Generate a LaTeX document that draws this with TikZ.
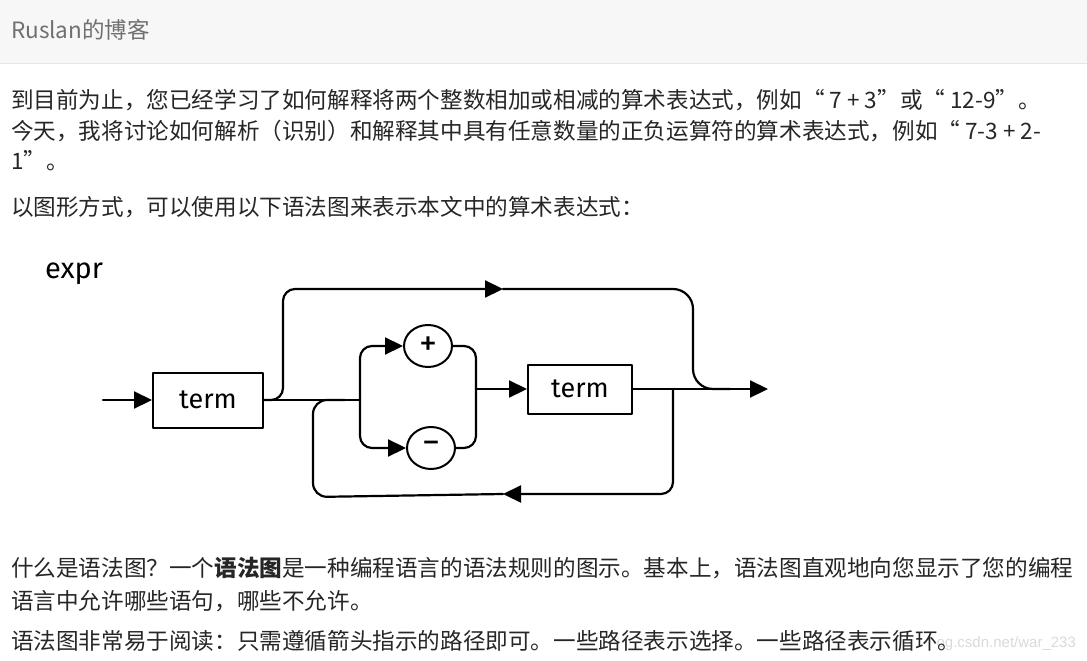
\documentclass[tikz,border=0pt]{standalone}
\usepackage{fontspec}
\setmainfont{Noto Sans CJK SC}
\newfontfamily\hand{Fira Sans}
\newfontfamily\wmfont{Liberation Sans}
\usetikzlibrary{arrows.meta,shapes.geometric}
\definecolor{txt}{HTML}{262626}
\definecolor{hdrbg}{HTML}{F7F7F7}
\definecolor{hdrline}{HTML}{E6E6E6}
\definecolor{hdrtxt}{HTML}{707070}
\definecolor{wmark}{HTML}{DADADA}
\begin{document}
\begin{tikzpicture}[x=1pt,y=-1pt,
  line width=2.2pt, line join=round, line cap=round,
  tip/.style={-{Triangle[length=18pt,width=17pt]}},
  wire/.style={rounded corners=12pt},
  box/.style={draw, rectangle, inner sep=0pt, line width=2pt, font=\hand\fontsize{27}{27}\selectfont},
  op/.style={draw, ellipse, inner sep=0pt, minimum width=48pt, minimum height=42pt, line width=2pt, font=\hand\fontsize{36}{36}\selectfont},
  body/.style={anchor=base west, inner sep=0pt, text=txt, font=\fontsize{22.6}{26}\selectfont}]
\useasboundingbox (0,0) rectangle (1087,661);
\fill[white] (0,0) rectangle (1087,661);
% header
\fill[hdrbg] (0,0) rectangle (1087,63);
\draw[hdrline, line width=1.2pt] (0,63.5) -- (1087,63.5);
\node[anchor=base west, inner sep=0pt, text=hdrtxt, font=\fontsize{22.5}{24}\selectfont] (hdr) at (10,39) {Ruslan的博客};
% body text
\node[body] (l1) at (10,108) {到目前为止，您已经学习了如何解释将两个整数相加或相减的算术表达式，例如“ 7 + 3”或“ 12-9”。};
\node[body] (l2) at (10,139) {今天，我将讨论如何解析（识别）和解释其中具有任意数量的正负运算符的算术表达式，例如“ 7-3 + 2-};
\node[body] (l3) at (10,169) {1”。};
\node[body] (l4) at (10,215) {以图形方式，可以使用以下语法图来表示本文中的算术表达式：};
% watermark
\node[anchor=base east, inner sep=0pt, text=wmark, font=\wmfont\fontsize{15}{17}\selectfont] (wm) at (1077,647) {og.csdn.net/war\_233};
\node[body] (l5) at (10,576) {什么是语法图？一个{\bfseries 语法图}是一种编程语言的语法规则的图示。基本上，语法图直观地向您显示了您的编程};
\node[body] (l6) at (10,609) {语言中允许哪些语句，哪些不允许。};
\node[body] (l7) at (10,649) {语法图非常易于阅读：只需遵循箭头指示的路径即可。一些路径表示选择。一些路径表示循环。};
% diagram
\node[anchor=base west, inner sep=0pt, font=\hand\fontsize{29}{29}\selectfont] (expr) at (44,278) {expr};
\node[box, minimum width=110pt, minimum height=55pt] (term1) at (208,400) {term};
\node[op] (plus) at (428,346) {+};
\node[op] (minus) at (431,448) {−};
\node[box, minimum width=104pt, minimum height=49pt] (term2) at (580,389) {term};
\coordinate (in) at (103,400);
\coordinate (j1) at (283,400);
\coordinate (tl) at (283,289);
\coordinate (tarr) at (503,289);
\coordinate (tr) at (693,289);
\coordinate (tm) at (693,389);
\coordinate (tend) at (730,389);
\coordinate (j2) at (360,400);
\coordinate (jr) at (476,389);
\coordinate (out) at (768,389);
\coordinate (lp) at (673,389);
\coordinate (larr) at (503,494);
\coordinate (lbl) at (313,497);
\coordinate (ltl) at (313,400);
\coordinate (lj) at (345,400);
% connectors
\draw[tip] (in) -- (term1.west);
\draw (term1.east) -- (j2);
\draw[tip, wire] (term1.east) -- (j1) -- (tl) -- (tarr);
\draw[rounded corners=20pt] (tarr) -- (tr) -- (tm) -- (tend);
\draw[tip, wire] (j2) |- (plus.west);
\draw[tip, wire] (j2) |- (minus.west);
\draw[wire] (plus.east) -| (jr);
\draw[wire] (minus.east) -| (jr);
\draw[tip] (jr) -- (term2.west);
\draw[tip] (term2.east) -- (out);
\draw[tip, wire] (lp) |- (larr);
\draw[rounded corners=14pt] (larr) -- (lbl) -- (ltl) -- (lj);
\end{tikzpicture}
\end{document}
